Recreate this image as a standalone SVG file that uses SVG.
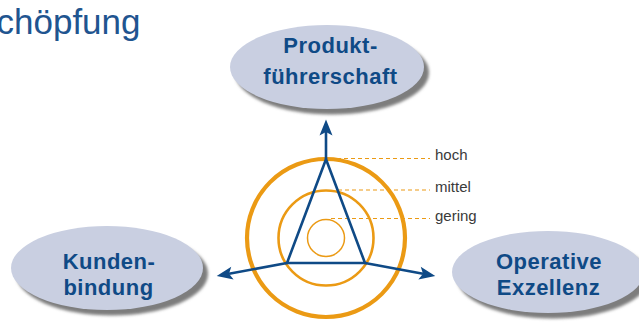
<svg xmlns="http://www.w3.org/2000/svg" width="639" height="323" viewBox="0 0 639 323">
  <style>
    .title { font-family: "Liberation Sans", Arial, sans-serif; font-size: 35px; fill: #1f5590; }
    .node-shape { fill: #c9cfe1; }
    .node-shadow { fill: #7d7d7d; filter: url(#soft); }
    .node-label { font-family: "Liberation Sans", Arial, sans-serif; font-size: 22px; font-weight: bold; fill: #0f4a86; letter-spacing: 0.5px; text-anchor: middle; }
    .ring { fill: none; stroke: #eb9a14; }
    .level { stroke: #eb9a14; stroke-width: 1.2; stroke-dasharray: 4 3; fill: none; }
    .level-label { font-family: "Liberation Sans", Arial, sans-serif; font-size: 15px; fill: #3a3a3a; }
    .axis { stroke: #0f4a86; stroke-width: 2.6; fill: none; marker-end: url(#stealth); }
    .tri { stroke: #0f4a86; stroke-width: 2.6; fill: none; stroke-linejoin: miter; }
  </style>
  <defs>
    <filter id="soft" x="-10%" y="-10%" width="120%" height="120%">
      <feGaussianBlur stdDeviation="1.6"/>
    </filter>
    <marker id="stealth" markerUnits="userSpaceOnUse" viewBox="-5 -8 19 16" refX="0" refY="0" markerWidth="19" markerHeight="16" orient="auto">
      <path d="M12.5,0 L-3.5,-6.5 L0,0 L-3.5,6.5 Z" fill="#0f4a86"/>
    </marker>
  </defs>

  <rect width="639" height="323" fill="#ffffff"/>

  <text class="title" x="-3.5" y="33.5">chöpfung</text>

  <!-- concentric rings -->
  <g id="rings">
    <circle class="ring" cx="326" cy="238" r="79" stroke-width="4.2"/>
    <circle class="ring" cx="326" cy="238" r="47.5" stroke-width="2.6"/>
    <circle class="ring" cx="326" cy="238" r="18.5" stroke-width="1.5"/>
  </g>

  <!-- level markers -->
  <g id="levels">
    <line class="level" x1="330" y1="158.5" x2="430" y2="158.5"/>
    <line class="level" x1="338" y1="190" x2="430" y2="190"/>
    <line class="level" x1="331" y1="218.5" x2="430" y2="218.5"/>
    <text class="level-label" x="435" y="160">hoch</text>
    <text class="level-label" x="435" y="191.5">mittel</text>
    <text class="level-label" x="435" y="220.5">gering</text>
  </g>

  <!-- connectors -->
  <g id="connectors">
    <polygon class="tri" points="326,159.3 287,263 365,263"/>
    <line class="axis" x1="326" y1="159.3" x2="326" y2="132"/>
    <line class="axis" x1="287" y1="263" x2="229" y2="273.7"/>
    <line class="axis" x1="365" y1="263" x2="423" y2="273.7"/>
  </g>

  <g id="node-produktfuehrerschaft">
    <ellipse class="node-shadow" cx="332" cy="72.5" rx="97" ry="42"/>
    <ellipse class="node-shape" cx="327" cy="67" rx="97" ry="42"/>
    <text class="node-label" x="330.5" y="52.5">Produkt-</text>
    <text class="node-label" x="330.5" y="84">führerschaft</text>
  </g>

  <g id="node-kundenbindung">
    <ellipse class="node-shadow" cx="112" cy="273.5" rx="96" ry="42"/>
    <ellipse class="node-shape" cx="107" cy="268" rx="96" ry="42"/>
    <text class="node-label" x="109" y="268.5">Kunden-</text>
    <text class="node-label" x="108.5" y="295">bindung</text>
  </g>

  <g id="node-operative-exzellenz">
    <ellipse class="node-shadow" cx="553" cy="277.5" rx="96" ry="41"/>
    <ellipse class="node-shape" cx="548" cy="272" rx="96" ry="41"/>
    <text class="node-label" x="549" y="268.5">Operative</text>
    <text class="node-label" x="548.5" y="295">Exzellenz</text>
  </g>
</svg>
